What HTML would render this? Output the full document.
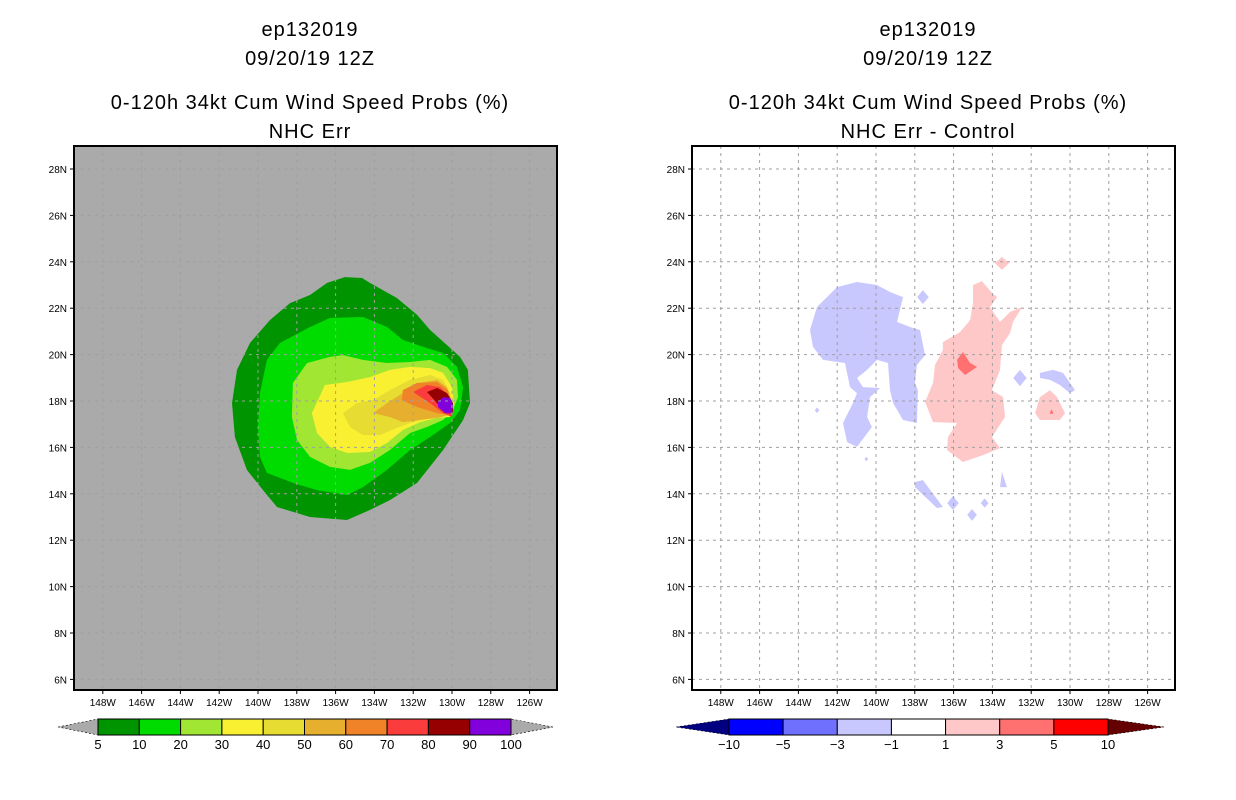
<!DOCTYPE html>
<html><head><meta charset="utf-8"><style>
html,body{margin:0;padding:0;background:#fff;}
svg{display:block;font-family:"Liberation Sans",sans-serif;}
</style></head><body>
<svg id="fig" width="1236" height="800" viewBox="0 0 1236 800"></svg>
<script>
const NS="http://www.w3.org/2000/svg";
const svg=document.getElementById('fig');
function mk(tag,attrs,parent){const e=document.createElementNS(NS,tag);for(const k in attrs)e.setAttribute(k,attrs[k]);(parent||svg).appendChild(e);return e;}

// ---- data ----
const lonTicks=[148,146,144,142,140,138,136,134,132,130,128,126];
const latTicks=[28,26,24,22,20,18,16,14,12,10,8,6];
const probLevels=["5","10","20","30","40","50","60","70","80","90","100"];
const probColors=["#009400","#00dc00","#a0e632","#faf032","#e6dc32","#e6af2d","#f08228","#fa3c3c","#960000","#8200dc"];
const diffLevels=["-10","-5","-3","-1","1","3","5","10"];
const diffColors=["#0000ff","#7070ff","#c8c8ff","#ffffff","#ffc8c8","#ff7070","#ff0000"];
const prob5=[[137.32,22.57],[136.44,23.09],[135.52,23.34],[134.64,23.30],[134.23,23.09],[132.84,22.44],[131.80,21.71],[131.13,21.06],[130.26,20.41],[129.59,19.90],[129.18,19.34],[129.07,17.91],[129.43,17.18],[130.46,15.89],[131.80,14.47],[133.20,13.73],[134.23,13.30],[135.41,12.87],[137.32,13.00],[139.02,13.43],[139.74,14.16],[140.57,15.03],[141.19,16.45],[141.34,17.91],[141.08,19.34],[140.41,20.50],[139.38,21.49],[138.35,22.22]];
const prob10=[[139.54,19.77],[138.87,20.50],[137.32,21.19],[136.29,21.58],[134.59,21.62],[133.35,21.19],[132.53,20.63],[131.29,20.28],[130.46,20.07],[129.74,19.47],[129.43,18.60],[129.59,17.61],[130.10,17.05],[131.13,16.45],[132.16,15.89],[133.35,15.03],[134.59,14.29],[135.41,13.95],[136.96,14.16],[138.20,14.47],[139.54,14.90],[139.90,15.59],[140.00,16.88],[139.90,18.34]];
const prob20=[[138.20,18.78],[137.47,19.64],[136.29,19.90],[135.62,19.98],[134.59,19.77],[133.35,19.64],[132.16,19.68],[131.13,19.77],[130.26,19.47],[129.74,18.91],[129.69,18.17],[129.95,17.61],[130.46,17.18],[131.29,16.88],[132.16,16.62],[133.20,15.89],[134.23,15.33],[135.26,15.03],[136.29,15.16],[137.32,15.59],[137.99,16.32],[138.25,17.31]];
const prob30=[[137.22,17.48],[136.55,18.69],[135.41,18.82],[134.23,19.03],[133.20,19.34],[132.16,19.47],[131.13,19.42],[130.46,19.21],[130.00,18.60],[129.90,17.91],[130.10,17.31],[130.77,17.27],[131.65,17.09],[132.53,16.75],[133.35,16.19],[134.23,15.80],[135.41,15.76],[136.29,16.02],[136.96,16.62]];
const prob40=[[135.62,17.48],[134.90,17.91],[134.07,18.04],[133.20,18.47],[132.16,18.91],[131.13,19.12],[130.46,18.91],[130.10,18.34],[130.00,17.74],[130.46,17.31],[131.13,17.27],[132.01,17.09],[132.84,16.84],[133.71,16.53],[134.59,16.53],[135.26,16.88]];
const prob50=[[134.07,17.48],[133.35,17.91],[132.53,18.34],[131.65,18.78],[130.77,18.91],[130.26,18.60],[130.00,17.91],[130.10,17.40],[130.77,17.27],[131.65,17.18],[132.53,17.09],[133.20,17.31]];
const prob60=[[132.58,18.04],[132.53,18.47],[131.80,18.78],[130.77,18.82],[130.21,18.47],[129.95,17.74],[130.10,17.40],[130.77,17.48],[131.80,17.74]];
const prob70=[[132.01,18.39],[131.29,18.69],[130.62,18.60],[130.10,18.17],[129.95,17.61],[130.00,17.31],[130.46,17.48],[131.13,17.91]];
const prob80=[[131.29,18.39],[130.77,18.56],[130.26,18.34],[129.95,17.91],[129.95,17.48],[130.26,17.48],[130.77,17.91]];
const prob90=[[130.72,17.96],[130.46,18.17],[130.10,18.13],[129.95,17.83],[130.00,17.48],[130.36,17.48],[130.72,17.74]];
const negMain=[[143.40,21.06],[143.04,22.05],[142.01,22.91],[140.98,23.13],[139.95,23.00],[139.28,22.70],[138.61,22.48],[138.92,21.41],[138.25,21.19],[137.73,21.06],[137.47,19.98],[137.89,19.55],[137.99,18.78],[137.84,18.47],[137.89,17.05],[138.61,17.18],[139.12,17.91],[139.28,18.47],[139.38,19.64],[139.95,19.77],[140.46,19.34],[140.98,18.99],[140.67,18.60],[139.79,18.56],[140.31,18.17],[140.46,17.31],[140.21,16.88],[140.98,16.02],[141.49,16.23],[141.70,17.05],[141.19,17.91],[140.98,18.34],[141.34,18.60],[141.60,19.64],[142.73,19.77],[143.25,20.33]];
const negArc=[[131.55,19.21],[130.88,19.34],[130.36,19.21],[129.74,18.47],[130.00,18.34],[130.52,18.69],[131.03,18.91],[131.55,18.99]];
const negSouth=[[137.99,14.51],[137.58,14.59],[136.55,13.43],[136.86,13.39],[137.99,14.29]];
const negSouth2=[[133.51,14.94],[133.25,14.29],[133.61,14.29]];
const negDots=[[132.58,18.99,0.35],[137.58,22.48,0.3],[143.04,17.6,0.12],[140.5,15.5,0.1],[136.03,13.6,0.3],[135.05,13.09,0.25],[134.4,13.6,0.2],[138.9,21.9,0.1]];
const posMain=[[135.00,23.00],[134.54,23.17],[134.02,22.66],[133.76,22.48],[134.12,22.05],[133.61,21.41],[133.09,21.84],[132.47,22.05],[132.94,21.41],[133.09,20.93],[133.51,20.41],[133.61,19.34],[134.02,18.47],[133.45,18.17],[133.35,17.31],[134.02,16.45],[133.61,15.97],[134.48,15.67],[135.52,15.37],[136.34,15.89],[136.29,16.45],[135.82,17.05],[137.06,17.09],[137.47,17.96],[137.06,18.78],[136.96,19.55],[136.55,20.20],[136.55,20.54],[135.67,20.97],[135.15,21.49],[135.00,22.22]];
const posTop=[[133.51,24.21],[133.14,23.95],[133.51,23.65],[133.87,23.95]];
const posEast=[[131.80,17.48],[131.55,18.17],[131.03,18.47],[130.67,18.17],[130.26,17.48],[130.52,17.18],[131.55,17.18]];
const pos3=[[135.52,20.11],[135.15,19.64],[134.79,19.47],[135.41,19.12],[135.77,19.42],[135.82,19.77]];
const pos3b=[[130.95,17.65],[130.85,17.45],[131.05,17.45]];

// ---- axes ----
const PX_DEG_X=19.4, PX_DEG_Y=23.2;
function mkX(x0){return lon=>x0-(lon-140)*PX_DEG_X;}
function yS(lat){return 401-(lat-18)*PX_DEG_Y;}
const panels=[{x0:74,xs:mkX(258),bg:"#aaaaaa",name:"left"},{x0:692,xs:mkX(876),bg:"#ffffff",name:"right"}];
const PW=483, PT=146, PH=544;

function poly(g,pts,xs,fill,name){
  const p=mk('polygon',{points:pts.map(q=>xs(q[0]).toFixed(1)+','+yS(q[1]).toFixed(1)).join(' '),fill:fill},g);
  
  
}
function titles(cx,lines){
  const ys=[36,65,109,138];
  lines.forEach((t,i)=>{const e=mk('text',{x:cx,y:ys[i],'text-anchor':'middle','font-size':'20',fill:'#000','letter-spacing':'1'});e.textContent=t;
    
    });
}

panels.forEach((P,pi)=>{
  const g=mk('g',{});
  
  
  const clipId='clip'+pi;
  const cp=mk('clipPath',{id:clipId},g);mk('rect',{x:P.x0,y:PT,width:PW,height:PH},cp);
  const bg=mk('rect',{x:P.x0,y:PT,width:PW,height:PH,fill:P.bg},g);
  
  
  const fg=mk('g',{'clip-path':'url(#'+clipId+')'},g);
  if(pi===0){
    [prob5,prob10,prob20,prob30,prob40,prob50,prob60,prob70,prob80,prob90].forEach((c,i)=>poly(fg,c,P.xs,probColors[i],'prob-contour-'+probLevels[i]));
  } else {
    [negMain,negArc,negSouth,negSouth2].forEach(c=>poly(fg,c,P.xs,diffColors[2],'negative-diff-area'));
    negDots.forEach(d=>poly(fg,[[d[0]-d[2],d[1]],[d[0],d[1]+d[2]],[d[0]+d[2],d[1]],[d[0],d[1]-d[2]]],P.xs,diffColors[2],'negative-diff-spot'));
    [posMain,posTop,posEast].forEach(c=>poly(fg,c,P.xs,diffColors[4],'positive-diff-area'));
    [pos3,pos3b].forEach(c=>poly(fg,c,P.xs,diffColors[5],'positive-diff-core'));
  }
  // grid
  lonTicks.forEach(l=>{const x=P.xs(l);const ln=mk('line',{x1:x,y1:PT,x2:x,y2:PT+PH,stroke:'#a0a0a0','stroke-width':1,'stroke-dasharray':'3,4'},fg);
    });
  latTicks.forEach(l=>{const y=yS(l);const ln=mk('line',{x1:P.x0,y1:y,x2:P.x0+PW,y2:y,stroke:'#a0a0a0','stroke-width':1,'stroke-dasharray':'3,4'},fg);
    });
  const fr=mk('rect',{x:P.x0,y:PT,width:PW,height:PH,fill:'none',stroke:'#000','stroke-width':2},g);
  
  lonTicks.forEach(l=>{const x=P.xs(l);mk('line',{x1:x,y1:PT+PH,x2:x,y2:PT+PH+4,stroke:'#000'},g);
    const t=mk('text',{x:x,y:PT+PH+16,'text-anchor':'middle','font-size':'10'},g);t.textContent=l+'W';
    });
  latTicks.forEach(l=>{const y=yS(l);mk('line',{x1:P.x0-4,y1:y,x2:P.x0,y2:y,stroke:'#000'},g);
    const t=mk('text',{x:P.x0-7,y:y+4,'text-anchor':'end','font-size':'10'},g);t.textContent=l+'N';
    });
});

titles(310,["ep132019","09/20/19 12Z","0-120h 34kt Cum Wind Speed Probs (%)","NHC Err"]);
titles(928,["ep132019","09/20/19 12Z","0-120h 34kt Cum Wind Speed Probs (%)","NHC Err - Control"]);

// colorbars
function colorbar(x0,x1,tipL,tipR,colors,levels,leftTri,rightTri,name){
  const g=mk('g',{});
  
  
  const y0=719,y1=735,ym=727;
  const w=(x1-x0)/colors.length;
  mk('polygon',{points:`${tipL},${ym} ${x0},${y0} ${x0},${y1}`,fill:leftTri,stroke:'#000','stroke-width':0.6,'stroke-dasharray':'2,2'},g);
  mk('polygon',{points:`${tipR},${ym} ${x1},${y0} ${x1},${y1}`,fill:rightTri,stroke:'#000','stroke-width':0.6,'stroke-dasharray':'2,2'},g);
  colors.forEach((c,i)=>{const r=mk('rect',{x:x0+i*w,y:y0,width:w,height:y1-y0,fill:c,stroke:'#000','stroke-width':1},g);
    });
  levels.forEach((l,i)=>{const t=mk('text',{x:x0+i*w,y:749,'text-anchor':'middle','font-size':'13'},g);t.textContent=l.replace('-','\u2212');
    });
}
colorbar(98,511,58,553,probColors,probLevels,'#aaaaaa','#aaaaaa','prob-colorbar');
colorbar(729,1108,676,1164,diffColors,diffLevels,'#000080','#640000','diff-colorbar');
</script>
</body></html>
